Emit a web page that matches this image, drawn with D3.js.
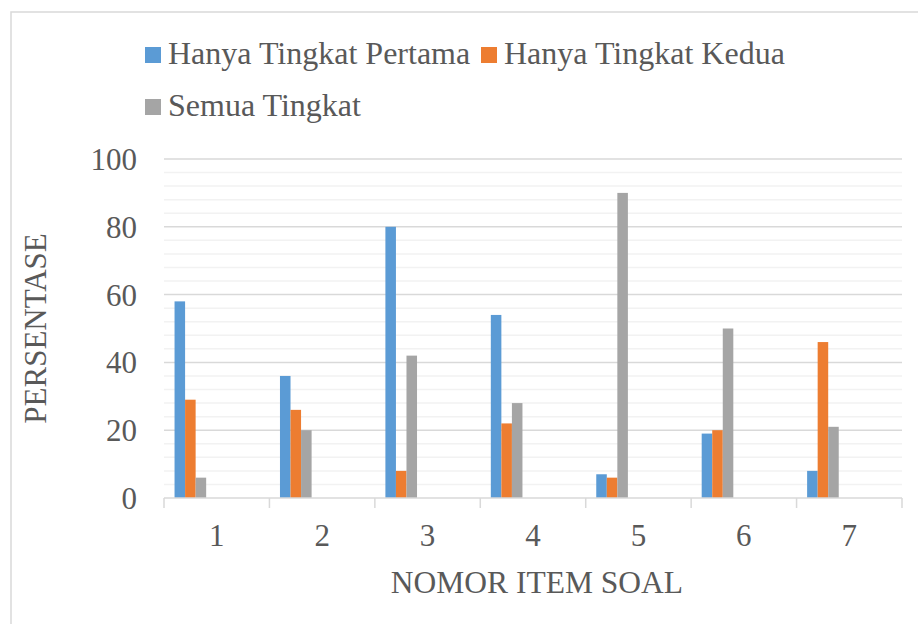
<!DOCTYPE html>
<html>
<head>
<meta charset="utf-8">
<script src="https://cdn.jsdelivr.net/npm/d3@7"></script>
<style>
  body { margin: 0; background: #fff; }
  text { font-family: "Liberation Serif", "Times New Roman", serif; fill: #595959; }
</style>
</head>
<body>
<div id="chart"></div>
<script>
const [width, height] = [918, 624];

// data
const items = ["1", "2", "3", "4", "5", "6", "7"];
const seriesNames = ["Hanya Tingkat Pertama", "Hanya Tingkat Kedua", "Semua Tingkat"];
const pertama = [58, 36, 80, 54, 7, 19, 8];
const kedua = [29, 26, 8, 22, 6, 20, 46];
const semua = [6, 20, 42, 28, 90, 50, 21];
const yTicks = [0, 20, 40, 60, 80, 100];
const colors = ["#5B9BD5", "#ED7D31", "#A5A5A5"];

const allSeries = [pertama, kedua, semua];

const margin = {top: 159, right: 16, bottom: 126, left: 164};
const w = width - margin.left - margin.right;
const h = height - margin.top - margin.bottom;

const svg = d3.select("#chart")
  .append("svg")
  .attr("width", width)
  .attr("height", height);

// chart border
svg.append("rect")
  .attr("x", 11).attr("y", 12)
  .attr("width", 1000).attr("height", 1000)
  .attr("fill", "none")
  .attr("stroke", "#d9d9d9")
  .attr("stroke-width", 1.5);

const g = svg.append("g")
  .attr("transform", `translate(${margin.left}, ${margin.top})`);

const x = d3.scaleBand()
  .domain(items)
  .range([0, w])
  .padding(0);

const y = d3.scaleLinear()
  .domain([0, 100])
  .range([h, 0]);

// minor gridlines every 4
const minor = d3.range(4, 100, 4).filter(v => v % 20 !== 0);
g.selectAll(".minor")
  .data(minor)
  .enter()
  .append("line")
  .attr("x1", 0).attr("x2", w)
  .attr("y1", d => y(d)).attr("y2", d => y(d))
  .attr("stroke", "#f2f2f2")
  .attr("stroke-width", 1.5);

g.selectAll(".major")
  .data(yTicks.filter(v => v > 0))
  .enter()
  .append("line")
  .attr("x1", 0).attr("x2", w)
  .attr("y1", d => y(d)).attr("y2", d => y(d))
  .attr("stroke", "#d9d9d9")
  .attr("stroke-width", 1.5);

// bars: slot width is a tenth of the band
const slot = x.bandwidth() / 10;
allSeries.forEach((vals, si) => {
  g.selectAll(".bar" + si)
    .data(vals)
    .enter()
    .append("rect")
    .attr("x", (d, i) => x(items[i]) + slot * (1 + si))
    .attr("y", d => y(d))
    .attr("width", slot)
    .attr("height", d => h - y(d))
    .attr("fill", colors[si]);
});

// x axis
const x_axis = d3.axisBottom(x).tickSize(0).tickPadding(0);
const xg = g.append("g")
  .attr("transform", `translate(0, ${h})`)
  .call(x_axis);
xg.select(".domain").remove();
xg.selectAll("text")
  .attr("y", 48)
  .attr("dy", null)
  .style("font-size", "31px")
  .style("fill", "#595959");

g.append("line")
  .attr("x1", 0).attr("x2", w)
  .attr("y1", h).attr("y2", h)
  .attr("stroke", "#d9d9d9")
  .attr("stroke-width", 1.5);

const bounds = items.map(d => x(d)).concat([w]);
g.selectAll(".xtick")
  .data(bounds)
  .enter()
  .append("line")
  .attr("x1", d => d).attr("x2", d => d)
  .attr("y1", h).attr("y2", h + 10)
  .attr("stroke", "#d9d9d9")
  .attr("stroke-width", 1.5);

// y axis labels
const y_axis = d3.axisLeft(y).tickValues(yTicks).tickSize(0).tickPadding(27);
const yg = g.append("g").call(y_axis);
yg.select(".domain").remove();
yg.selectAll("text")
  .attr("dy", "0.34em")
  .style("font-size", "31px")
  .style("fill", "#595959");

// axis titles
svg.append("text")
  .attr("text-anchor", "middle")
  .attr("x", margin.left + w / 2 + 4)
  .attr("y", 593)
  .style("font-size", "31.5px")
  .text("NOMOR ITEM SOAL");

svg.append("text")
  .attr("text-anchor", "middle")
  .attr("transform", `translate(46, ${margin.top + h / 2}) rotate(-90)`)
  .style("font-size", "31px")
  .text("PERSENTASE");

// legend
const legendPos = [
  {x: 145, y: 64},
  {x: 481, y: 64},
  {x: 145, y: 116}
];
const leg = svg.selectAll(".legend")
  .data(seriesNames)
  .enter()
  .append("g")
  .attr("transform", (d, i) => `translate(${legendPos[i].x}, ${legendPos[i].y})`);

leg.append("rect")
  .attr("x", 0).attr("y", -17)
  .attr("width", 16).attr("height", 16)
  .attr("fill", (d, i) => colors[i]);

leg.append("text")
  .attr("x", 23)
  .attr("y", 0)
  .style("font-size", "32px")
  .text(d => d);
</script>
</body>
</html>
